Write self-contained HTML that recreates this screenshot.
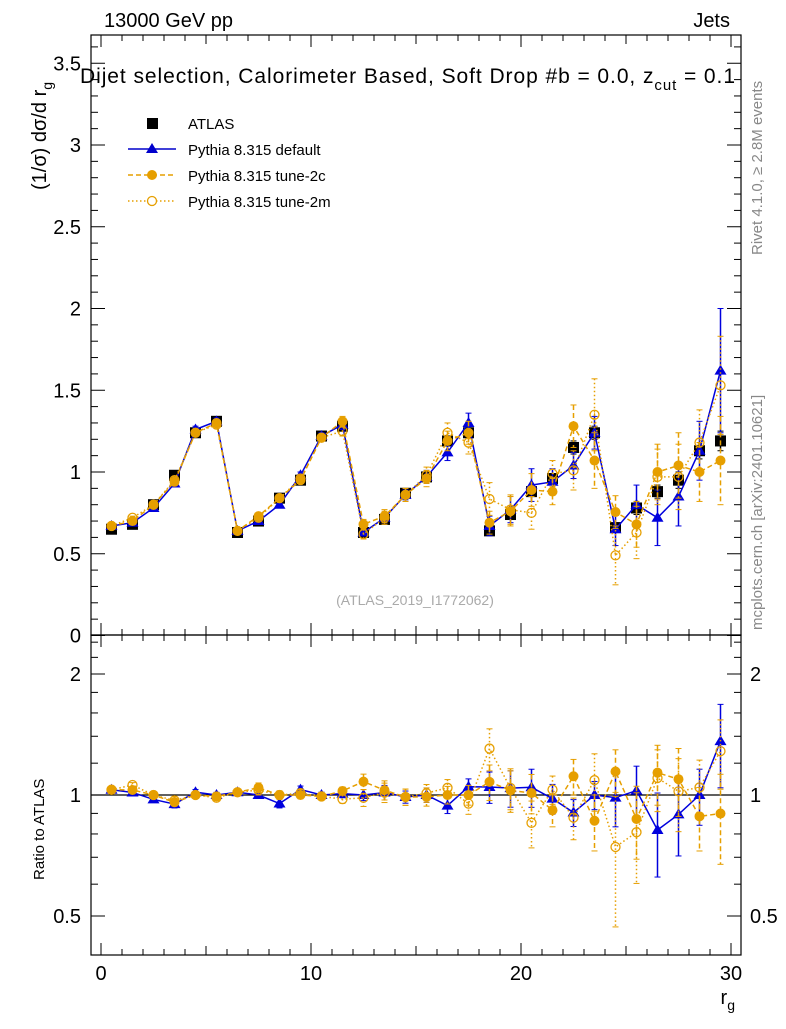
<!DOCTYPE html>
<html><head><meta charset="utf-8"><style>
body{margin:0;background:#fff;font-family:"Liberation Sans",sans-serif}
svg text{font-family:"Liberation Sans",sans-serif}
</style></head><body>
<svg id="c" width="786" height="1024" xmlns="http://www.w3.org/2000/svg">
<text x="104" y="27" font-size="20">13000 GeV pp</text>
<text x="730" y="27" font-size="20" text-anchor="end">Jets</text>
<text x="80" y="83" font-size="21" textLength="655" lengthAdjust="spacing">Dijet selection, Calorimeter Based, Soft Drop #b = 0.0, z<tspan font-size="15" dy="7">cut</tspan><tspan dy="-7"> = 0.1</tspan></text>
<text transform="translate(46,190) rotate(-90)" font-size="20">(1/σ) dσ/d r<tspan font-size="14" dy="6">g</tspan></text>
<text transform="translate(44,880) rotate(-90)" font-size="15">Ratio to ATLAS</text>
<text x="735" y="1004" font-size="20" text-anchor="end">r<tspan font-size="14" dy="6">g</tspan></text>
<text transform="translate(762,255) rotate(-90)" font-size="15" fill="#888">Rivet 4.1.0, ≥ 2.8M events</text>
<text transform="translate(762,630) rotate(-90)" font-size="15" fill="#888">mcplots.cern.ch [arXiv:2401.10621]</text>
<text x="415" y="605" font-size="14" fill="#aaa" text-anchor="middle">(ATLAS_2019_I1772062)</text>
<g id="legend">
<rect x="147" y="118" width="11" height="11" fill="#000"/>
<text x="188" y="129" font-size="15">ATLAS</text>
<line x1="128" y1="149" x2="176" y2="149" stroke="#00c" stroke-width="1.5"/><polygon points="152,143 146,153 158,153" fill="#00c"/>
<text x="188" y="155" font-size="15">Pythia 8.315 default</text>
<line x1="128" y1="175" x2="176" y2="175" stroke="#e69f00" stroke-width="1.5" stroke-dasharray="5,3"/><circle cx="152" cy="175" r="5" fill="#e69f00"/>
<text x="188" y="181" font-size="15">Pythia 8.315 tune-2c</text>
<line x1="128" y1="201" x2="176" y2="201" stroke="#e69f00" stroke-width="1.5" stroke-dasharray="1.5,2.5"/><circle cx="152" cy="201" r="4.5" fill="#fff" stroke="#e69f00" stroke-width="1.3"/>
<text x="188" y="207" font-size="15">Pythia 8.315 tune-2m</text>
</g>
</svg>
<script>
const bins=[0.5,1.5,2.5,3.5,4.5,5.5,6.5,7.5,8.5,9.5,10.5,11.5,12.5,13.5,14.5,15.5,16.5,17.5,18.5,19.5,20.5,21.5,22.5,23.5,24.5,25.5,26.5,27.5,28.5,29.5];
const atlas=[0.65,0.68,0.80,0.98,1.24,1.31,0.63,0.70,0.84,0.95,1.22,1.28,0.63,0.71,0.87,0.97,1.19,1.24,0.64,0.74,0.88,0.96,1.15,1.24,0.66,0.78,0.88,0.95,1.13,1.19];
const atlasErr=[0.01,0.01,0.01,0.02,0.02,0.02,0.01,0.01,0.02,0.02,0.02,0.02,0.01,0.02,0.02,0.02,0.03,0.03,0.02,0.03,0.03,0.03,0.04,0.04,0.03,0.04,0.04,0.05,0.05,0.06];
const pyDefault=[0.67,0.69,0.78,0.93,1.26,1.31,0.64,0.70,0.80,0.98,1.22,1.29,0.63,0.72,0.86,0.97,1.12,1.30,0.67,0.77,0.92,0.94,1.04,1.24,0.65,0.80,0.72,0.85,1.13,1.62];
const defErr=[0.01,0.01,0.01,0.02,0.02,0.02,0.01,0.01,0.02,0.02,0.02,0.03,0.02,0.03,0.03,0.04,0.05,0.06,0.06,0.08,0.1,0.08,0.08,0.1,0.1,0.12,0.17,0.18,0.18,0.38];
const tune2c=[0.67,0.70,0.80,0.94,1.24,1.30,0.64,0.73,0.84,0.95,1.21,1.31,0.68,0.73,0.86,0.96,1.19,1.24,0.69,0.76,0.89,0.88,1.28,1.07,0.755,0.68,1.00,1.04,1.00,1.07];
const c2Err=[0.01,0.01,0.01,0.02,0.02,0.02,0.01,0.02,0.02,0.02,0.02,0.03,0.03,0.04,0.04,0.05,0.06,0.07,0.07,0.09,0.1,0.08,0.13,0.17,0.1,0.14,0.17,0.2,0.18,0.27];
const tune2m=[0.67,0.72,0.80,0.95,1.24,1.29,0.64,0.72,0.84,0.96,1.21,1.25,0.62,0.72,0.86,0.98,1.24,1.18,0.835,0.77,0.75,0.99,1.01,1.35,0.49,0.63,0.97,0.97,1.18,1.53];
const m2Err=[0.01,0.01,0.01,0.02,0.02,0.02,0.01,0.02,0.02,0.02,0.02,0.03,0.03,0.04,0.04,0.05,0.06,0.07,0.1,0.09,0.1,0.08,0.12,0.22,0.18,0.16,0.17,0.2,0.2,0.3];
const xTicks=[0,10,20,30];
const yTicks=[0,0.5,1,1.5,2,2.5,3,3.5];
const rTicks=[0.5,1,2];

const S=document.getElementById('c');const NS='http://www.w3.org/2000/svg';
function mk(t,a,p){const e=document.createElementNS(NS,t);for(const k in a)e.setAttribute(k,a[k]);(p||S).appendChild(e);return e;}
const X=v=>101+21*v, Y=v=>635.5-163.5*v, R=v=>795-121*Math.log2(v);
const L=91,Rt=741;
const f1=mk('rect',{x:L,y:35,width:Rt-L,height:600,fill:'none',stroke:'#000','stroke-width':1.2});


const f2=mk('rect',{x:L,y:635,width:Rt-L,height:320,fill:'none',stroke:'#000','stroke-width':1.2});


for(let i=0;i<=30;i++){const x=X(i);const len=i%10==0?12:(i%5==0?9:6);
 mk('line',{x1:x,y1:635,x2:x,y2:635-len,stroke:'#000'});mk('line',{x1:x,y1:35,x2:x,y2:35+len,stroke:'#000'});
 mk('line',{x1:x,y1:955,x2:x,y2:955-len,stroke:'#000'});mk('line',{x1:x,y1:635,x2:x,y2:635+len,stroke:'#000'});}
xTicks.forEach(v=>{const t=mk('text',{x:X(v),y:980,'font-size':20,'text-anchor':'middle'});t.textContent=v;

});
for(let i=0;i<=36;i++){const v=i/10;const y=Y(v);if(y<35)continue;const len=i%5==0?14:7;
 mk('line',{x1:L,y1:y,x2:L+len,y2:y,stroke:'#000'});mk('line',{x1:Rt,y1:y,x2:Rt-len,y2:y,stroke:'#000'});}
yTicks.forEach(v=>{const t=mk('text',{x:81,y:Y(v)+7,'font-size':20,'text-anchor':'end'});t.textContent=v;

});
[0.5,0.6,0.7,0.8,0.9,1,1.2,1.4,1.6,1.8,2,2.2,2.4].forEach(v=>{const y=R(v);const maj=rTicks.includes(v);const len=maj?14:7;
 mk('line',{x1:L,y1:y,x2:L+len,y2:y,stroke:'#000'});mk('line',{x1:Rt,y1:y,x2:Rt-len,y2:y,stroke:'#000'});});
rTicks.forEach(v=>{const t=mk('text',{x:81,y:R(v)+7,'font-size':20,'text-anchor':'end'});t.textContent=v;


const t2=mk('text',{x:750,y:R(v)+7,'font-size':20});t2.textContent=v;

});
mk('line',{x1:L,y1:R(1),x2:Rt,y2:R(1),stroke:'#000','stroke-width':1.2});

function series(vals,errs,col,dash,marker,name,ratio){
 const g=mk('g',{});
 
 
 const yv=(i)=>ratio?R(vals[i]/atlas[i]):Y(vals[i]);
 const ye=(i,s)=>ratio?R((vals[i]+s*errs[i])/atlas[i]):Y(vals[i]+s*errs[i]);
 if(dash!==null){let d='';bins.forEach((b,i)=>{d+=(i?'L':'M')+X(b)+','+yv(i);});
  const a={d:d,fill:'none',stroke:col,'stroke-width':1.5};if(dash)a['stroke-dasharray']=dash;mk('path',a,g);}
 bins.forEach((b,i)=>{const x=X(b);const a={x1:x,y1:ye(i,1),x2:x,y2:ye(i,-1),stroke:col,'stroke-width':1.5};if(dash)a['stroke-dasharray']=dash;mk('line',a,g);
  mk('line',{x1:x-3,y1:ye(i,1),x2:x+3,y2:ye(i,1),stroke:col},g);mk('line',{x1:x-3,y1:ye(i,-1),x2:x+3,y2:ye(i,-1),stroke:col},g);
  const y=yv(i);let m;
  if(marker=='sq')m=mk('rect',{x:x-5.5,y:y-5.5,width:11,height:11,fill:col},g);
  else if(marker=='tri')m=mk('polygon',{points:`${x},${y-6} ${x-6},${y+4} ${x+6},${y+4}`,fill:col},g);
  else if(marker=='dot')m=mk('circle',{cx:x,cy:y,r:5,fill:col},g);
  else m=mk('circle',{cx:x,cy:y,r:4.5,fill:'#fff','fill-opacity':0,stroke:col,'stroke-width':1.3},g);
  
  });
}
series(atlas,atlasErr,'#000',null,'sq','atlas-data',false);
series(pyDefault,defErr,'#0000dd','','tri','pythia-default',false);
series(tune2c,c2Err,'#e69f00','5,3','dot','pythia-tune-2c',false);
series(tune2m,m2Err,'#e69f00','1.5,2.5','circ','pythia-tune-2m',false);
series(pyDefault,defErr,'#0000dd','','tri','pythia-default',true);
series(tune2c,c2Err,'#e69f00','5,3','dot','pythia-tune-2c',true);
series(tune2m,m2Err,'#e69f00','1.5,2.5','circ','pythia-tune-2m',true);
</script>
</body></html>
